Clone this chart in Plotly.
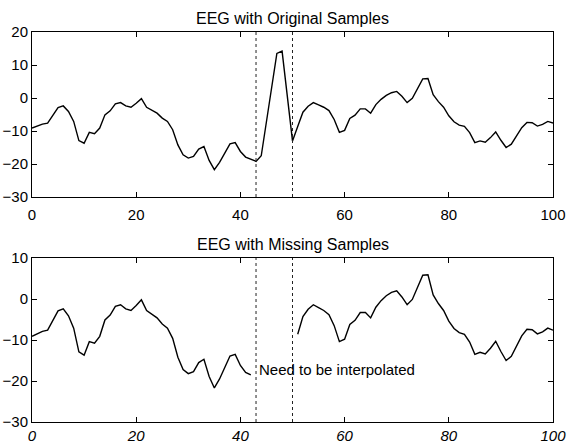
import plotly.graph_objects as go
from plotly.subplots import make_subplots

x_vals = list(range(0, 101))
eeg_original = [
    -9.1, -8.4, -7.9, -7.6, -5.1, -2.9, -2.4, -4.1, -7.1, -12.9,
    -13.7, -10.4, -10.8, -9.1, -5.1, -3.9, -1.8, -1.4, -2.4, -2.8,
    -1.6, -0.2, -2.8, -3.6, -4.6, -6.1, -7.1, -9.6, -14.2, -17.2,
    -18.2, -17.7, -15.5, -14.7, -18.9, -21.7, -19.5, -16.7, -13.9, -13.5,
    -16.2, -17.9, -18.5, -19.2, -17.5, -7.0, 4.0, 13.5, 14.2, 0.0,
    -13.0, -8.6, -4.3, -2.5, -1.4, -2.1, -2.8, -3.8, -6.5, -10.4,
    -9.8, -6.2, -5.2, -3.3, -3.3, -4.6, -2.0, -0.4, 0.8, 1.6,
    2.0, 0.5, -1.4, -0.1, 3.0, 5.8, 5.9, 1.0, -1.1, -2.8,
    -5.4, -7.2, -8.2, -8.6, -10.5, -13.5, -13.0, -13.4, -12.0, -10.3,
    -12.8, -15.0, -14.0, -11.3, -9.0, -7.4, -7.5, -8.5, -8.0, -7.1,
    -7.6,
]
missing_bounds = [43, 50]          # first / last missing sample marker lines
missing_start, missing_end = 43, 50  # samples 43..50 are removed
eeg_missing = [None if missing_start <= xv <= missing_end else v
               for xv, v in zip(x_vals, eeg_original)]

titles = ["EEG with Original Samples", "EEG with Missing Samples"]
top_range = [-30, 20]
bottom_range = [-30, 10]
x_ticks = [0, 20, 40, 60, 80, 100]
annot_text = "Need to be interpolated"
annot_pos = (43.2, -17.3)

FONT = "Liberation Sans, Arial, sans-serif"
fig = make_subplots(rows=2, cols=1, vertical_spacing=0.0)

line_style = dict(color="black", width=1.4)
fig.add_trace(go.Scatter(x=x_vals, y=eeg_original, mode="lines", line=line_style,
                         showlegend=False), row=1, col=1)
fig.add_trace(go.Scatter(x=x_vals, y=eeg_missing, mode="lines", line=line_style,
                         connectgaps=False, showlegend=False), row=2, col=1)

for row, yr in ((1, top_range), (2, bottom_range)):
    for xb in missing_bounds:
        fig.add_trace(go.Scatter(x=[xb, xb], y=yr, mode="lines",
                                 line=dict(color="#222222", width=1, dash="dot"),
                                 showlegend=False, hoverinfo="skip"), row=row, col=1)

fig.update_layout(
    width=570, height=446,
    margin=dict(l=32, r=17, t=32, b=24, autoexpand=False),
    paper_bgcolor="white", plot_bgcolor="white",
    font=dict(family=FONT, size=15, color="black"),
    xaxis=dict(domain=[0, 1], anchor="y"),
    xaxis2=dict(domain=[0, 1], anchor="y2"),
    yaxis=dict(domain=[0.5769, 1.0], anchor="x"),
    yaxis2=dict(domain=[0.0, 0.4205], anchor="x2"),
)

common_x = dict(range=[0, 100], tickvals=x_ticks, showgrid=False, zeroline=False,
                showline=True, linecolor="black", linewidth=1, mirror="ticks",
                ticks="inside", ticklen=5, tickcolor="black", automargin=False)
fig.update_xaxes(**common_x, tickfont=dict(family=FONT, size=15),
                 ticklabelstandoff=4, row=1, col=1)
fig.update_xaxes(**common_x, tickfont=dict(family=FONT, size=15, style="italic"),
                 ticklabelstandoff=0, row=2, col=1)

common_y = dict(showgrid=False, zeroline=False, showline=True, linecolor="black",
                linewidth=1, mirror="ticks", ticks="inside", ticklen=5, tickcolor="black",
                dtick=10, tickfont=dict(family=FONT, size=15), automargin=False)
fig.update_yaxes(**common_y, range=top_range, row=1, col=1)
fig.update_yaxes(**common_y, range=bottom_range, row=2, col=1)

fig.add_annotation(x=0.5, y=1.0, xref="paper", yref="paper", yshift=3,
                   text=titles[0], showarrow=False, yanchor="bottom",
                   font=dict(family=FONT, size=16))
fig.add_annotation(x=0.5, y=0.4205, xref="paper", yref="paper", yshift=3,
                   text=titles[1], showarrow=False, yanchor="bottom",
                   font=dict(family=FONT, size=16))
fig.add_annotation(x=annot_pos[0], y=annot_pos[1], xref="x2", yref="y2",
                   text=annot_text, showarrow=False, xanchor="left",
                   font=dict(family=FONT, size=15))

fig.write_html("out.html")
